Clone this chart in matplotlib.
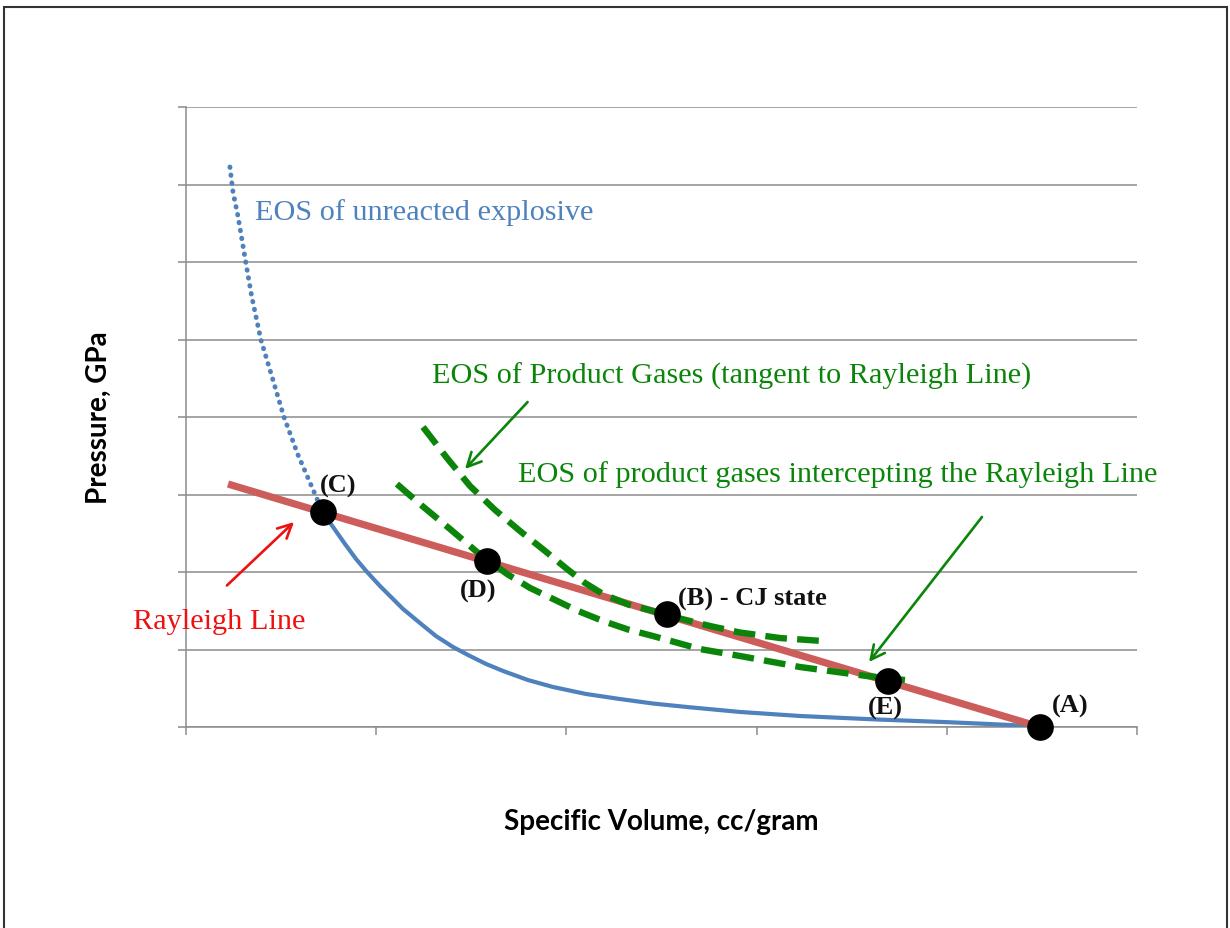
import matplotlib
matplotlib.use("Agg")
import matplotlib.pyplot as plt
from matplotlib.patches import Rectangle

# Unreacted explosive EOS (dotted above point C, solid below it)
unreacted_dotted_v = [0.231, 0.247, 0.273, 0.314, 0.345, 0.394, 0.451, 0.515, 0.589, 0.678, 0.720]
unreacted_dotted_p = [7.226, 6.903, 6.594, 6.000, 5.561, 4.994, 4.529, 4.000, 3.510, 3.006, 2.761]
unreacted_solid_v = [0.720, 0.773, 0.836, 0.894, 0.952, 1.020, 1.083, 1.141, 1.230, 1.314,
                     1.404, 1.493, 1.578, 1.667, 1.798, 1.930, 2.103, 2.282, 2.455, 2.634,
                     2.913, 3.228, 3.633, 4.017, 4.280, 4.490]
unreacted_solid_p = [2.761, 2.581, 2.361, 2.168, 2.000, 1.819, 1.665, 1.523, 1.342, 1.174,
                     1.032, 0.916, 0.813, 0.723, 0.606, 0.516, 0.426, 0.361, 0.303, 0.258,
                     0.194, 0.142, 0.097, 0.061, 0.032, 0.006]

# Rayleigh line end points
rayleigh_v = [0.221, 4.490]
rayleigh_p = [3.135, 0.000]

# Product-gas EOS tangent to the Rayleigh line (CJ state)
tangent_v = [1.246, 1.372, 1.493, 1.625, 1.756, 1.888, 2.003, 2.098, 2.192, 2.324,
             2.455, 2.597, 2.755, 2.913, 3.123, 3.344]
tangent_p = [3.871, 3.471, 3.110, 2.800, 2.529, 2.271, 2.039, 1.858, 1.716, 1.581,
             1.497, 1.400, 1.303, 1.219, 1.148, 1.110]

# Product-gas EOS crossing the Rayleigh line at D and E
intercept_v = [1.109, 1.230, 1.388, 1.530, 1.688, 1.809, 1.930, 2.061, 2.192, 2.324,
               2.455, 2.702, 2.913, 3.228, 3.580, 3.780]
intercept_p = [3.135, 2.877, 2.555, 2.258, 1.974, 1.794, 1.652, 1.497, 1.368, 1.258,
               1.174, 1.006, 0.916, 0.774, 0.658, 0.606]

# Labelled states
state_names = ["(A)", "(B) - CJ state", "(C)", "(D)", "(E)"]
state_v = [4.49, 2.53, 0.72, 1.58, 3.69]
state_p = [0.00, 1.46, 2.77, 2.14, 0.60]

x_ticks = [0, 1, 2, 3, 4, 5]
y_ticks = [0, 1, 2, 3, 4, 5, 6, 7, 8]

serif = ["Liberation Serif", "DejaVu Serif"]
sans = ["Lato", "Open Sans", "DejaVu Sans"]

fig = plt.figure(figsize=(12.3, 9.29), dpi=100)
ax = fig.add_axes([186 / 1230, 1 - 728 / 929, (1137 - 186) / 1230, (728 - 108) / 929])

grid_col = "#8c8c8c"
ax.set_xlim(0, 5)
ax.set_ylim(0, 8)
ax.set_xticks(x_ticks)
ax.set_yticks(y_ticks)
ax.set_xticklabels([])
ax.set_yticklabels([])
ax.tick_params(axis="both", length=6, width=1.1, color=grid_col, direction="out")
ax.yaxis.grid(True, color=grid_col, linewidth=1.1)
ax.set_axisbelow(True)
for side in ("top", "right"):
    ax.spines[side].set_visible(False)
for side in ("left", "bottom"):
    ax.spines[side].set_color(grid_col)
    ax.spines[side].set_linewidth(1.1)
ax.spines["bottom"].set_zorder(0.5)

blue = "#4f81bd"
green = "#0a850a"
red_line = "#cd5d5b"

ax.plot(unreacted_dotted_v, unreacted_dotted_p, color=blue, lw=3.5,
        linestyle=(0, (0.1, 1.55)), dash_capstyle="round", zorder=3)
ax.plot(unreacted_solid_v, unreacted_solid_p, color=blue, lw=3.0,
        solid_capstyle="round", solid_joinstyle="round", zorder=3)
ax.plot(rayleigh_v, rayleigh_p, color=red_line, lw=5.2, solid_capstyle="butt", zorder=4)
ax.plot(tangent_v, tangent_p, color=green, lw=4.6, linestyle=(0, (3.4, 1.6)),
        dash_capstyle="butt", dash_joinstyle="round", zorder=5)
ax.plot(intercept_v, intercept_p, color=green, lw=4.6, linestyle=(0, (3.4, 1.6)),
        dash_capstyle="butt", dash_joinstyle="round", zorder=5)
ax.scatter(state_v, state_p, s=330, color="black", zorder=6, clip_on=False)

# state labels, offsets in pixels from each point
label_offsets = {
    "(A)": (12, 15),
    "(B) - CJ state": (11, 9),
    "(C)": (-3, 21),
    "(D)": (-27, -35),
    "(E)": (-20, -33),
}
for name, v, p in zip(state_names, state_v, state_p):
    dx, dy = label_offsets[name]
    ax.annotate(name, (v, p), xytext=(dx, dy), textcoords="offset pixels",
                ha="left", va="baseline", fontsize=19, fontweight="bold",
                family=serif, color="#111111", zorder=7)

# curve annotations
ax.text(0.363, 6.555, "EOS of unreacted explosive", color=blue, fontsize=21.8,
        family=serif, va="baseline", ha="left")
ax.text(1.293, 4.439, "EOS of Product Gases (tangent to Rayleigh Line)", color=green,
        fontsize=21.8, family=serif, va="baseline", ha="left")
ax.text(1.745, 3.174, "EOS of product gases intercepting the Rayleigh Line", color=green,
        fontsize=21.8, family=serif, va="baseline", ha="left")
ax.text(-0.279, 1.277, "Rayleigh Line", color="#ee1111", fontsize=21.8,
        family=serif, va="baseline", ha="left", clip_on=False)

arrow_kw = dict(arrowstyle="->,head_length=1.0,head_width=0.5", lw=1.9, shrinkA=0, shrinkB=0)
ax.annotate("", xy=(1.467, 3.329), xytext=(1.796, 4.193),
            arrowprops=dict(color=green, **arrow_kw))
ax.annotate("", xy=(3.591, 0.839), xytext=(4.185, 2.710),
            arrowprops=dict(color=green, **arrow_kw))
ax.annotate("", xy=(0.568, 2.645), xytext=(0.215, 1.826),
            arrowprops=dict(color="#ee1111", **arrow_kw))

ax.set_xlabel("Specific Volume, cc/gram", fontsize=20, fontweight="bold",
              family=sans, labelpad=49)
ax.set_ylabel("Pressure, GPa", fontsize=20, fontweight="bold", family=sans, labelpad=44)

# outer frame
fig.patches.append(Rectangle((4 / 1230, -0.01), (1227 - 4) / 1230, 1.01 - 8 / 929,
                             transform=fig.transFigure, fill=False,
                             edgecolor="#333333", linewidth=1.5))

fig.savefig("out.png", dpi=100, facecolor="white")
